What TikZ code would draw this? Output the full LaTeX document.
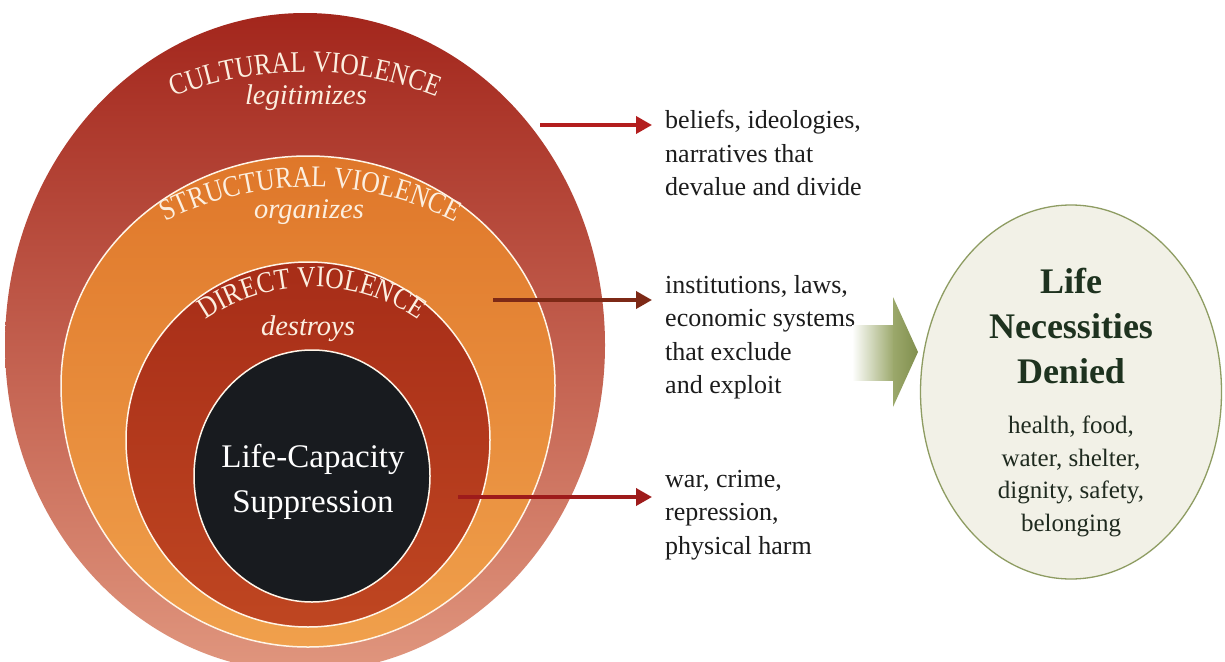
\documentclass[tikz,border=0pt]{standalone}
\usepackage{fontspec}
\setmainfont{Liberation Serif}
\newfontfamily\narrowserif[FakeStretch=0.85]{Liberation Serif}
\usetikzlibrary{shapes.geometric,arrows.meta,decorations.text}

% ring colours
\definecolor{cultTop}{HTML}{A3261C}
\definecolor{cultMid}{HTML}{B6412F}
\definecolor{cultBot}{HTML}{E0967E}
\definecolor{strTop}{HTML}{DF772A}
\definecolor{strMid}{HTML}{E98A30}
\definecolor{strBot}{HTML}{F0A04C}
\definecolor{dirTop}{HTML}{A72D18}
\definecolor{dirMid}{HTML}{B2351A}
\definecolor{dirBot}{HTML}{BF4621}
\definecolor{coreFill}{HTML}{181B1F}
\definecolor{ringLine}{HTML}{FFF5E8}
\definecolor{ringText}{HTML}{FCEFE0}
% arrows and text
\definecolor{arrowA}{HTML}{B31E1E}
\definecolor{arrowB}{HTML}{7D2916}
\definecolor{arrowC}{HTML}{9E1B1B}
\definecolor{bodyText}{HTML}{1C1C1C}
% the needs oval
\definecolor{needEdge}{HTML}{8E9C62}
\definecolor{needCentre}{HTML}{F2F1E7}
\definecolor{needMid}{HTML}{E8E9D8}
\definecolor{needRim}{HTML}{CDD3AC}
\definecolor{needTitle}{HTML}{1E321F}
\definecolor{needText}{HTML}{1F2A1F}
\definecolor{oliveA}{HTML}{9BA86B}
\definecolor{oliveB}{HTML}{818F4E}

\pgfdeclareradialshading{needglow}{\pgfpoint{0bp}{0bp}}{%
  color(0bp)=(needCentre); color(26bp)=(needCentre);
  color(42bp)=(needMid); color(50bp)=(needRim); color(72bp)=(needRim)}

\newcommand\arcfont{\narrowserif\fontsize{30}{30}\selectfont\color{ringText}}

\begin{document}
\begin{tikzpicture}[x=1pt,y=-1pt,
  ringedge/.style={draw=ringLine,line width=1.5pt},
  verb/.style={anchor=base,text=ringText,font=\fontsize{28.5}{28.5}\selectfont\itshape},
  listtext/.style={anchor=north west,align=left,inner sep=0pt,text=bodyText,
    font=\fontsize{26}{33.5}\selectfont},
  pointer/.style={line width=3.6pt,-{Triangle[length=16pt,width=17pt]}},
  arcname/.style={decorate,decoration={text along path,text align=center,text={|\arcfont|#1}}}]

\useasboundingbox (0,0) rectangle (1225,661);
\fill[white] (0,0) rectangle (1225,661);

% cultural violence (outer ring)
\path[shade,top color=cultTop,middle color=cultMid,bottom color=cultBot]
  (605,345) arc[start angle=0,end angle=180,x radius=300,y radius=327]
            arc[start angle=180,end angle=360,x radius=300,y radius=332] -- cycle;
% structural violence
\path[shade,top color=strTop,middle color=strMid,bottom color=strBot,ringedge]
  (555,385) arc[start angle=0,end angle=180,x radius=247,y radius=262]
            arc[start angle=180,end angle=360,x radius=247,y radius=229] -- cycle;
% direct violence
\path[shade,top color=dirTop,middle color=dirMid,bottom color=dirBot,ringedge]
  (490,440) arc[start angle=0,end angle=180,x radius=182,y radius=187]
            arc[start angle=180,end angle=360,x radius=182,y radius=178] -- cycle;
% core
\node[ellipse,fill=coreFill,ringedge,minimum width=236pt,minimum height=252pt,inner sep=0pt]
  (core) at (312,476) {};

% ring names along arcs
\path[arcname={CULTURAL VIOLENCE}]
  (305,431) ++(232:359) arc[start angle=232,end angle=308,radius=359];
\path[arcname={STRUCTURAL VIOLENCE}]
  (310,505) ++(228:318) arc[start angle=228,end angle=312,radius=318];
\path[arcname={DIRECT VIOLENCE}]
  (312,474) ++(212:187) arc[start angle=212,end angle=328,radius=187];

\node[verb] (legit) at (306,104) {legitimizes};
\node[verb] (organ) at (309,218) {organizes};
\node[verb] (destr) at (308,335) {destroys};

\node[anchor=north,align=center,inner sep=0pt,text=white,
  font=\fontsize{33}{45}\selectfont] (corelabel) at (313,444) {Life-Capacity\\Suppression};

% descriptions
\node[listtext] (cultxt) at (665,110) {beliefs, ideologies,\\narratives that\\devalue and divide};
\node[listtext] (strtxt) at (665,275) {institutions, laws,\\economic systems\\that exclude\\and exploit};
\node[listtext] (dirtxt) at (665,470) {war, crime,\\repression,\\physical harm};

% pointers from the rings
\coordinate (fromcult) at (540,125);
\coordinate (fromstr) at (493,300);
\coordinate (fromdir) at (458,497);
\draw[pointer,draw=arrowA] (fromcult) -- ([xshift=-13pt]cultxt.west |- fromcult);
\draw[pointer,draw=arrowB] (fromstr) -- ([xshift=-13pt]strtxt.west |- fromstr);
\draw[pointer,draw=arrowC] (fromdir) -- ([xshift=-13pt]dirtxt.west |- fromdir);

% needs oval
\node[ellipse,draw=needEdge,line width=1.3pt,shading=needglow,
  minimum width=301pt,minimum height=374pt,inner sep=0pt] (need) at (1071,392) {};
\node[anchor=north,align=center,inner sep=0pt,text=needTitle,
  font=\fontsize{36}{45}\selectfont\bfseries] (needtitle) at (1071,268)
  {Life\\Necessities\\Denied};
\node[anchor=north,align=center,inner sep=0pt,text=needText,
  font=\fontsize{25}{32.5}\selectfont] (needlist) at (1071,416)
  {health, food,\\water, shelter,\\dignity, safety,\\belonging};

% broad arrow into the oval
\shade[left color=white,right color=oliveA] (852,325) rectangle (894,380);
\shade[left color=oliveA,right color=oliveB] (893,297) -- (918,352) -- (893,407) -- cycle;

\end{tikzpicture}
\end{document}
